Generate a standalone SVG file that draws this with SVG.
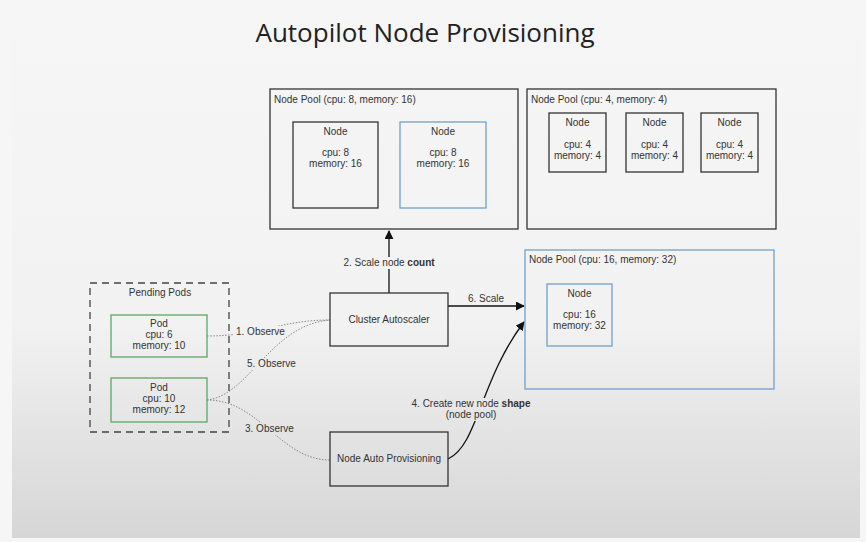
<svg xmlns="http://www.w3.org/2000/svg" width="866" height="542" viewBox="0 0 866 542">
<defs>
<linearGradient id="bg" gradientUnits="userSpaceOnUse" x1="0" y1="0" x2="0" y2="538">
<stop offset="0" stop-color="#f6f6f6"/>
<stop offset="0.6" stop-color="#f2f2f2"/>
<stop offset="1" stop-color="#d6d6d6"/>
</linearGradient>
<marker id="ah" viewBox="0 0 10 10" refX="9" refY="5" markerWidth="9" markerHeight="9" markerUnits="userSpaceOnUse" orient="auto">
<path d="M0,0 L10,5 L0,10 z" fill="#111"/>
</marker>
<style>
.t{font-family:"Liberation Sans",Arial,sans-serif;font-size:10px;fill:#333}
.c{text-anchor:middle}
.lbg{fill:url(#bg);stroke:none}
.box{fill:none;stroke:#333;stroke-width:1.3}
.blue{fill:none;stroke:#6fa0cc;stroke-width:1.3}
.green{fill:none;stroke:#5aa865;stroke-width:1.3}
.dash{fill:none;stroke:#444;stroke-width:1.3;stroke-dasharray:7,5}
.obs{fill:none;stroke:#888;stroke-width:1;stroke-dasharray:1.5,1.5}
.arr{fill:none;stroke:#111;stroke-width:1.3}
</style>
</defs>
<rect x="0" y="0" width="866" height="542" fill="#f6f6f6"/>
<rect x="12" y="0" width="848" height="538" fill="url(#bg)"/>
<text x="425" y="42" text-anchor="middle" style="font-family:'Open Sans',Roboto,sans-serif;font-size:26px;font-weight:500;fill:#222">Autopilot Node Provisioning</text>

<g id="connectors">
<path class="arr" d="M389,293 L389,231" marker-end="url(#ah)"/>
<path class="arr" d="M448,306 L524,306" marker-end="url(#ah)"/>
<path class="arr" d="M448,459 C478,445 480,380 524,322" marker-end="url(#ah)"/>
<path class="obs" d="M207,336 C260,336 280,320 330,320"/>
<path class="obs" d="M207,400 C250,395 270,325 330,320"/>
<path class="obs" d="M207,400 C260,400 280,460 330,460"/>
<rect class="lbg" x="340" y="257" width="98" height="12"/>
<text class="t c" x="389" y="266">2. Scale node <tspan font-weight="bold">count</tspan></text>
<text class="t c" x="486" y="302">6. Scale</text>
<rect class="lbg" x="420" y="398" width="102" height="23"/>
<text class="t c" x="471" y="407">4. Create new node <tspan font-weight="bold">shape</tspan></text>
<text class="t c" x="471" y="418">(node pool)</text>
<rect class="lbg" x="233" y="326" width="50" height="12"/>
<text class="t" x="236" y="335">1. Observe</text>
<rect class="lbg" x="245" y="358" width="52" height="12"/>
<text class="t" x="247" y="367">5. Observe</text>
<rect class="lbg" x="243" y="423" width="52" height="12"/>
<text class="t" x="245" y="432">3. Observe</text>
</g>

<g id="pool1">
<rect class="box" x="270" y="89" width="248" height="140"/>
<text class="t" x="274" y="103">Node Pool (cpu: 8, memory: 16)</text>
</g>
<g id="node1a">
<rect class="box" x="293" y="122" width="85" height="86"/>
<text class="t c" x="335.5" y="135">Node</text>
<text class="t c" x="335.5" y="156">cpu: 8</text>
<text class="t c" x="335.5" y="167">memory: 16</text>
</g>
<g id="node1b">
<rect class="blue" x="400" y="122" width="86" height="86"/>
<text class="t c" x="443" y="135">Node</text>
<text class="t c" x="443" y="156">cpu: 8</text>
<text class="t c" x="443" y="167">memory: 16</text>
</g>

<g id="pool2">
<rect class="box" x="527" y="89" width="249" height="140"/>
<text class="t" x="531" y="103">Node Pool (cpu: 4, memory: 4)</text>
</g>
<g id="node2a">
<rect class="box" x="549" y="113" width="57" height="59"/>
<text class="t c" x="577.5" y="126">Node</text>
<text class="t c" x="577.5" y="148">cpu: 4</text>
<text class="t c" x="577.5" y="159">memory: 4</text>
</g>
<g id="node2b">
<rect class="box" x="626" y="113" width="57" height="59"/>
<text class="t c" x="654.5" y="126">Node</text>
<text class="t c" x="654.5" y="148">cpu: 4</text>
<text class="t c" x="654.5" y="159">memory: 4</text>
</g>
<g id="node2c">
<rect class="box" x="701" y="113" width="57" height="59"/>
<text class="t c" x="729.5" y="126">Node</text>
<text class="t c" x="729.5" y="148">cpu: 4</text>
<text class="t c" x="729.5" y="159">memory: 4</text>
</g>

<g id="pool3">
<rect class="blue" x="525" y="250" width="249" height="139"/>
<text class="t" x="529" y="263">Node Pool (cpu: 16, memory: 32)</text>
</g>
<g id="node3">
<rect class="blue" x="547" y="284" width="65" height="62"/>
<text class="t c" x="579.5" y="297">Node</text>
<text class="t c" x="579.5" y="318">cpu: 16</text>
<text class="t c" x="579.5" y="329">memory: 32</text>
</g>

<g id="pending">
<rect class="dash" x="90" y="283" width="139" height="149"/>
<text class="t c" x="160" y="296">Pending Pods</text>
</g>
<g id="pod1">
<rect class="green" x="111" y="315" width="96" height="42"/>
<text class="t c" x="159" y="327">Pod</text>
<text class="t c" x="159" y="338">cpu: 6</text>
<text class="t c" x="159" y="349">memory: 10</text>
</g>
<g id="pod2">
<rect class="green" x="111" y="378" width="96" height="44"/>
<text class="t c" x="159" y="391">Pod</text>
<text class="t c" x="159" y="402">cpu: 10</text>
<text class="t c" x="159" y="413">memory: 12</text>
</g>

<g id="autoscaler">
<rect class="box" x="330" y="293" width="118" height="53"/>
<text class="t c" x="389" y="323">Cluster Autoscaler</text>
</g>
<g id="nap">
<rect class="box" x="330" y="432" width="118" height="54"/>
<text class="t c" x="389" y="462">Node Auto Provisioning</text>
</g>
</svg>
